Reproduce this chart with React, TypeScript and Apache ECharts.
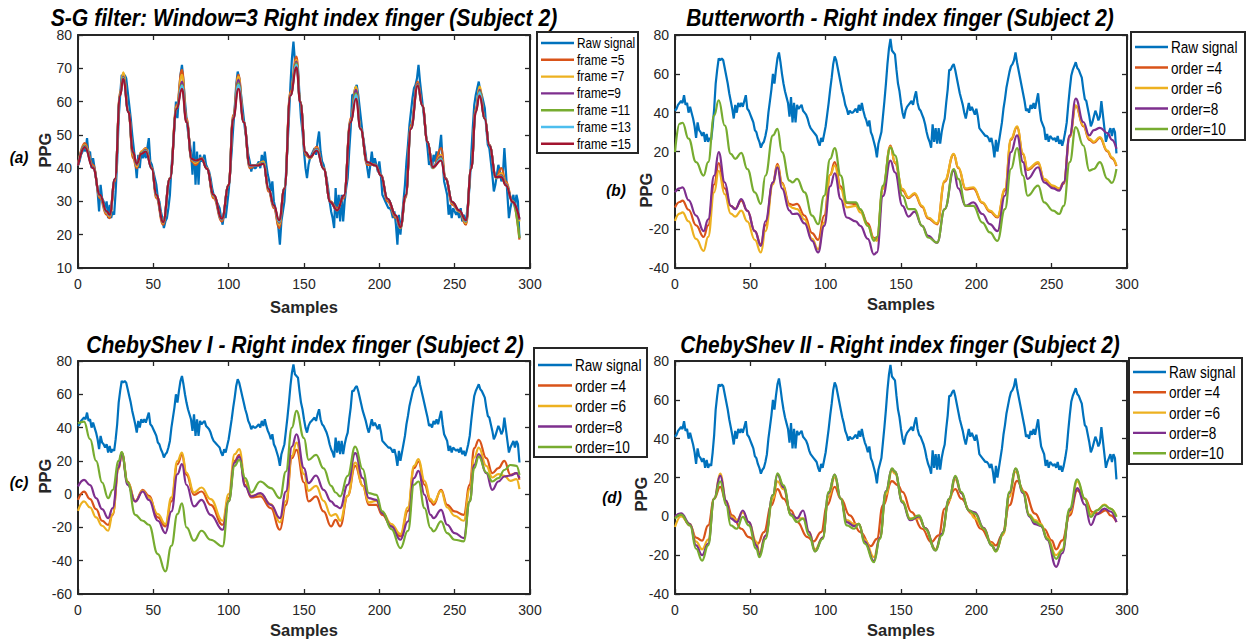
import React, { useEffect, useRef } from "react";
import * as echarts from "echarts";

// ---------------- DATA ----------------
// Raw PPG signal, one value per sample (0..293)
const rawSignal = [
  41, 42, 44, 45, 46, 45, 49, 44, 45, 40,
  43, 40, 37, 33, 27, 35, 31, 30, 28, 30,
  25, 29, 25, 27, 26, 33, 42, 55, 62, 68,
  67, 68, 67, 63, 59, 55, 50, 46, 42, 37,
  44, 40, 45, 43, 45, 43, 46, 49, 42, 41,
  39, 37, 35, 31, 30, 27, 25, 22, 24, 25,
  28, 32, 40, 46, 52, 60, 55, 62, 68, 71,
  66, 60, 55, 51, 48, 45, 38, 48, 35, 45,
  35, 44, 42, 43, 44, 41, 40, 39, 37, 34,
  32, 31, 30, 29, 28, 25, 23, 27, 25, 29,
  33, 39, 45, 52, 58, 65, 69, 67, 63, 59,
  55, 51, 48, 44, 42, 39, 41, 40, 40, 41,
  42, 40, 44, 41, 45, 41, 38, 36, 33, 36,
  30, 28, 25, 22, 17, 24, 27, 30, 38, 46,
  55, 65, 73, 78, 72, 71, 70, 62, 55, 51,
  45, 40, 37, 41, 43, 44, 45, 46, 44, 48,
  51, 45, 42, 41, 39, 37, 34, 30, 27, 25,
  22, 34, 25, 32, 24, 32, 24, 30, 34, 37,
  45, 52, 62, 62, 64, 65, 62, 58, 54, 50,
  47, 44, 40, 37, 41, 45, 41, 43, 41, 39,
  42, 38, 32, 31, 30, 29, 28, 28, 27, 25,
  27, 23, 17, 26, 20, 25, 30, 35, 42, 47,
  53, 57, 61, 64, 65, 67, 71, 66, 62, 58,
  54, 50, 46, 41, 42, 40, 44, 42, 45, 42,
  46, 50, 42, 36, 34, 32, 26, 29, 25, 28,
  27, 26, 27, 25, 28, 24, 26, 23, 26, 30,
  35, 44, 52, 59, 62, 64, 66, 63, 62, 60,
  58, 52, 47, 46, 42, 38, 33, 35, 38, 41,
  39, 36, 38, 46, 39, 32, 25, 28, 30, 32,
  28, 32, 30, 19,
];

// (a) Savitzky-Golay outputs, read at these sample positions
const sgX = [0, 4.5, 10, 14.5, 19, 21, 24.5, 28, 30, 33.5, 36.5, 39, 42, 45, 49, 52, 56.5, 61, 65.5, 69, 72, 75.5, 78, 82, 85.5, 90, 95.5, 100, 103, 106.5, 110, 114, 119, 123, 126.5, 130, 133.5, 137, 141, 145, 147.5, 151, 154, 158.5, 163, 167.5, 172, 176.5, 181, 184.5, 187.5, 192, 197.5, 201, 205.5, 211, 214, 217.5, 221, 225.5, 228.5, 232, 235.5, 241, 244, 248.5, 253, 257.5, 261, 264, 266.5, 270, 273, 277.5, 281, 284, 288.5, 293];
const sgFrame5 = [41, 47.5, 41, 31, 26, 25, 36, 63, 68.5, 57, 43, 40, 45, 46, 40, 31, 23, 37, 59, 69.5, 55, 42, 41, 43, 40, 31, 24, 35, 56, 68, 54, 40, 41, 42, 33, 28, 22, 34, 63, 73.5, 60, 44, 43, 46.5, 40, 30, 28, 31, 55, 64, 52, 41, 41, 38, 30, 25, 22, 31, 53, 66, 59, 48, 40, 46, 37, 29, 27, 23, 40, 58, 64, 55, 47, 37, 40, 36, 30, 18.5];
const sgFrame7 = [41, 47, 40.5, 31.5, 26.5, 25.5, 36.5, 62.5, 68.8, 57, 44, 40.5, 45, 45.8, 40, 31.5, 23.5, 37, 58.5, 68, 54.5, 42.5, 41.5, 43, 40, 31.5, 24.5, 35, 55.5, 67.5, 54, 40.5, 41, 42, 33.5, 28.5, 23, 34, 62.5, 72.5, 60, 44.5, 43, 46, 40, 30, 27.5, 31.5, 54.5, 64.5, 52, 41.5, 41, 38, 30.5, 25.5, 22, 31.5, 52.5, 65.5, 59, 48, 40, 44, 37, 29.5, 27, 23.5, 40, 57.5, 64.5, 55, 47, 37, 38.5, 35.5, 30, 24];
const sgFrame9 = [41, 46.8, 40.3, 31.8, 26.8, 25.8, 36.6, 62.2, 67.5, 57, 44.5, 41, 44.6, 45.5, 39.9, 31.8, 23.7, 36.9, 58, 66, 54.2, 42.6, 42, 42.9, 39.9, 31.8, 24.6, 34.9, 55.2, 66.5, 53.9, 40.6, 40.9, 41.6, 33.6, 28.6, 23.6, 33.9, 62, 72, 60, 44.6, 43.2, 45.8, 39.9, 29.9, 27.4, 31.6, 54.2, 63.5, 51.9, 41.6, 40.9, 37.9, 30.7, 25.6, 22.2, 31.6, 52.2, 65.3, 58.9, 47.9, 40.2, 43.5, 36.9, 29.7, 27.2, 23.9, 39.9, 57.2, 63.5, 54.9, 46.9, 37.2, 37.8, 35.2, 29.9, 24.5];
const sgFrame11 = [40.9, 46.6, 40.2, 31.9, 26.9, 25.9, 36.7, 62, 67.2, 56.9, 44.6, 41.1, 44.5, 45.3, 39.9, 31.9, 23.8, 36.8, 57.9, 65, 54, 42.7, 42.1, 42.8, 39.8, 31.9, 24.7, 34.8, 55, 65.5, 53.8, 40.7, 40.8, 41.5, 33.7, 28.7, 23.9, 33.8, 61.9, 71.5, 59.9, 44.7, 43.2, 45.6, 39.8, 29.8, 27.3, 31.7, 54, 62.5, 51.8, 41.7, 40.8, 37.8, 30.8, 25.7, 22.2, 31.7, 52, 65, 58.8, 47.8, 40.2, 43, 36.8, 29.8, 27.2, 24, 39.8, 57, 63, 54.8, 46.8, 37.2, 37.5, 35, 29.8, 19];
const sgFrame13 = [40.8, 46.4, 40.1, 31.9, 26.9, 25.9, 36.8, 61.9, 67, 56.8, 44.7, 41.2, 44.4, 45.1, 39.8, 31.9, 23.8, 36.8, 57.8, 64.8, 53.9, 42.7, 42.2, 42.8, 39.8, 31.9, 24.7, 34.8, 54.9, 65, 53.8, 40.7, 40.8, 41.4, 33.7, 28.7, 24, 33.8, 61.8, 71, 59.8, 44.7, 43.3, 45.5, 39.8, 29.8, 27.3, 31.7, 53.9, 62, 51.8, 41.7, 40.8, 37.8, 30.8, 25.7, 22.3, 31.7, 51.9, 64.9, 58.8, 47.8, 40.3, 42.7, 36.8, 29.8, 27.3, 24.1, 39.8, 56.9, 62.8, 54.8, 46.8, 37.2, 37.4, 34.9, 29.8, 24.8];
const sgFrame15 = [40.8, 46.3, 40, 32, 27, 26, 36.8, 61.8, 66.8, 56.8, 44.8, 41.3, 44.3, 45, 39.8, 32, 23.8, 36.8, 57.8, 63.8, 53.8, 42.8, 42.3, 42.8, 39.8, 32, 24.8, 34.8, 54.8, 63.8, 53.8, 40.8, 40.8, 41.3, 33.8, 28.8, 24.3, 33.8, 61.8, 70.3, 59.8, 44.8, 43.3, 45.3, 39.8, 29.8, 27.3, 31.8, 53.8, 60.8, 51.8, 41.8, 40.8, 37.8, 30.8, 25.8, 22.3, 31.8, 51.8, 64.8, 58.8, 47.8, 40.3, 42.3, 36.8, 29.8, 27.3, 24.3, 39.8, 56.8, 61.8, 54.8, 46.8, 37.3, 37.3, 34.8, 29.8, 24.8];

// (b) Butterworth
const bwX = [0, 3, 5, 9, 14, 19, 22, 26, 29, 33, 37, 40, 44, 48, 53, 57, 60, 65, 68, 71, 76, 78, 81, 86, 91, 95, 99, 103, 106, 110, 114, 120, 123, 128, 132, 134, 138, 143, 146, 151, 155, 159, 164, 168, 174, 179, 185, 188, 193, 198, 204, 209, 214, 219, 223, 227, 231, 234, 241, 245, 251, 255, 258, 262, 266, 271, 275, 278, 282, 287, 290, 293];
const bwOrder4 = [-8.8, -6, -5.3, -10, -18, -24, -18, 3, 14, 1, -8, -9.5, -5.3, -10.5, -21, -27.8, -18, 4, 13.6, 4, -7, -7.5, -7, -13, -22, -25.5, -13, 8, 14.5, 2, -6.5, -7, -10, -17, -24.5, -25, 1, 23, 14, 0, -4, -2, -8.5, -14.5, -17.5, 4.5, 18.5, 11.5, 0.5, 1, -6.5, -11, -14, 0, 26, 32.5, 18.5, 10.5, 14, 5.5, 2, 0.5, 3.5, 27.5, 43.5, 33, 26, 24.5, 27, 20, 16.5, 12.5];
const bwOrder6 = [-15.7, -12, -11.4, -16, -25, -31.2, -24, -1, 10, -2, -12, -13.5, -10.5, -16, -25.5, -32, -21, 3, 12.8, 3.5, -8, -9, -9.7, -15, -25, -30.3, -16.6, 8, 12.8, 0.7, -8.8, -8, -11.4, -18.3, -25.2, -26, 0.7, 22.5, 14.5, 0.7, -3.6, -1.4, -8, -14, -17, 5, 18.8, 12, 1, 1.6, -6.2, -10.5, -13.5, 0.7, 26.6, 33, 19, 11, 14.5, 5.9, 2.4, 1, 4.1, 28, 43.8, 33.4, 26.6, 25, 27.4, 20.5, 17, 12.8];
const bwOrder8 = [-1, 1, 1.5, -5, -13, -21, -15, 7.6, 19.7, 4.1, -8, -9.7, -4.5, -10.5, -21, -28.6, -16, 4.1, 11.9, 1, -10.5, -12.2, -12, -17, -26, -32, -18.3, 2, 8.8, -4.5, -14, -16, -18.3, -25, -33, -32, -3, 15.3, 9.3, -8, -13.5, -11, -18.3, -23.4, -27, -9.7, 10.2, 1, -8, -6.2, -12.2, -17.4, -21, -2.8, 19.7, 28.3, 14.5, 5.9, 11.9, 4.1, 1, -0.2, 4.1, 28.3, 47.2, 35.2, 28.3, 31, 32.2, 29.5, 26, 21.4];
const bwOrder10 = [19.7, 34.3, 34.8, 26.6, 14.5, 7.6, 14.5, 38.6, 46.4, 33.4, 18.8, 16.2, 19.3, 11, -1, -7, 7.6, 28.3, 31.7, 19.7, 5, 4.1, 5.9, -1, -13, -17.4, -2.8, 16.2, 21.7, 7.6, -6.2, -6.2, -9.7, -18.3, -26, -24, 2.4, 22, 18, -2.8, -9.7, -9.7, -18.3, -24.3, -26.9, -9.7, 11, 5.9, -8, -8, -16.6, -21.7, -26, -9.7, 11, 21.7, 7.6, -2.8, 2.4, -6.2, -10.5, -12.2, -8, 14.5, 32.6, 23.1, 10.2, 11, 14.5, 5.9, 3.8, 11];

// (c) Chebyshev I
const c1X = [0, 4, 8, 12, 16, 20, 23, 27, 29, 33, 38, 43, 47, 53, 58, 62, 66, 69, 72, 77, 82, 88, 96, 100, 104, 107, 111, 115, 121, 128, 134, 138, 142, 145, 150, 153, 158, 163, 168, 171, 174, 179, 184, 189, 193, 198, 202, 208, 214, 219, 223, 226, 230, 234, 236, 241, 245, 250, 256, 260, 263, 266, 271, 275, 279, 283, 287, 291, 293];
const c1Order4 = [-3.4, 1.5, -3, -9, -16, -18.5, -12.4, 16, 24.6, 7.6, -4.4, 2.6, -1, -14, -19.4, -4.4, 18, 23.6, 11.6, -0.4, 1.6, -6.4, -18.4, -2.4, 20, 23.6, 5.6, -2, -1.4, -8.4, -21.4, -6.4, 21.6, 26.6, 7, -4.4, -1.4, -10.4, -19.4, -15.4, -19.4, -1, 17, 5, -6.4, -6.4, -12.4, -19.4, -25.4, -10, 15.6, 19.6, 5.6, -4.4, -6.4, 2.6, -6.4, -10.4, -12.4, 5.6, 27.6, 32.6, 21.6, 12.6, 15.6, 20, 11.6, 12.6, 8.6];
const c1Order6 = [-10, -4.4, -8, -14, -19, -22, -12, 15, 25, 7, -4, 2, -2, -12, -18, -2, 20, 25, 13, 1, 4, -3, -16, 0, 24, 27, 8, -1, 0, -6, -17, -4, 23, 31, 12, 2, 5, -4, -13, -12, -16, -1, 19, 5, -5, -4, -11, -18, -24, -8, 17, 21, 8, -3, -5, 2, -8, -13, -16, 3, 22, 28, 17, 10, 12, 11, 8, 9, 3];
const c1Order8 = [4.6, 8.6, 5.4, -2.4, -9, -14.4, -8.4, 16, 24.6, 5.6, -4.4, 1.6, -3.5, -16, -23.4, -10.4, 12, 18, 5.6, -7.4, -3.4, -12.4, -21.4, -4.4, 19, 22.6, 4.6, -1.4, 0.6, -6.4, -14.4, 1.6, 28.6, 36, 15.6, 6.6, 11.2, 2.6, -4.4, -7, -8.4, 5.6, 24.6, 9.6, -2.4, -3.4, -11.4, -19.4, -27.4, -16.4, 9.6, 14, -0.4, -12.4, -14.4, -9.4, -18.4, -23.4, -26.4, -4.4, 17.6, 24, 12.6, 2.6, 7.6, 10.6, 11.2, 12.6, 9.6];
const c1Order10 = [42.6, 43.6, 33, 20, 7, -2.4, 2.5, 20, 25.2, 7, -12.4, -16, -18.4, -36, -46.4, -31, -12, -5.5, -20, -28, -22, -27.4, -31.4, -4.4, 17, 20.6, 9.6, 1, 7.6, 3.6, -2.4, 13.6, 40, 50, 33.6, 20.6, 23.6, 15.5, 5, 1, -1.4, 11, 28.6, 15, 0.6, -0.4, -10.4, -21, -32.4, -22, 5.6, 7.6, -8.4, -20.4, -22.4, -16.4, -23.4, -27.4, -28.4, -4.4, 15.6, 22.6, 13, 7.6, 9.6, 14.5, 17.5, 17, 11.6];

// (d) Chebyshev II
const c2X = [0, 4, 10, 14, 18, 22, 26, 30, 34, 37, 41, 45, 49, 54, 56, 60, 65, 68, 72, 77, 81, 85, 89, 93, 98, 102, 106, 110, 114, 119, 122, 126, 132, 136, 140, 144, 146, 151, 156, 162, 166, 173, 177, 182, 186, 190, 195, 199, 205, 210, 213, 218, 222, 226, 231, 235, 239, 243, 247, 253, 257, 262, 267, 272, 276, 280, 285, 289, 293];
const c2Order4X = [0, 4, 10, 14, 18, 22, 26, 30, 34, 38, 44, 49, 55, 59, 64, 68, 72, 77, 81, 88, 92, 97, 101, 106, 110, 116, 123, 130, 134, 138, 144, 148, 151, 157, 164, 170, 175, 179, 186, 190, 197, 203, 210, 213, 217, 222, 227, 232, 239, 245, 250, 253, 257, 262, 267, 272, 277, 281, 286, 289, 293];
const c2Order4 = [-0.3, 0.5, -4.7, -11, -12.5, -4.7, 9.1, 15.2, 7.4, 0.5, -6.4, -10.7, -14.1, -8.1, 5.7, 14, 9.1, 3.1, -2.9, -10.7, -12.9, -8.1, 5.7, 15.2, 9.1, 0.5, -8.1, -15.3, -11.6, 5.7, 18.1, 16, 12.6, 2.2, -6.4, -13.3, -9.8, 4, 14, 9.1, 1.4, -6.4, -13.3, -15, -9.8, 5.7, 18.3, 12.6, 1.4, -6.4, -12.4, -17, -12.4, 0.5, 13.4, 9.1, 2.2, 1.4, 3.1, 0.5, -2.9];
const c2Order6 = [-5.5, 0, -4, -13, -17, -12, 9, 22, 8, 0, -2, 2, -3, -13, -19, -10, 9, 18, 14, 1, -1, -1, -8, -17, -11, 10, 20, 9, -2, -4, -4, -12, -21, -11, 11, 23.5, 22, 8, -1, -1, -6, -17, -9, 8, 19, 12, 3, -1, -6, -14, -18, -9, 10, 23, 13, 1, -2, -4, -11, -20, -17, 2, 18, 9, 1, 3, 6, 4, 0];
const c2Order8 = [0, 1.5, -4, -15, -20, -14, 9, 21, 8, -1, -3, 3, -3, -15, -20, -10, 11, 21.5, 15, 1, -1, 3, -8, -18, -11, 12, 21.5, 9, -3, -5, -4, -13, -23, -11, 13, 24.5, 23, 7, -2, 0, -6, -17.5, -9, 9, 20.5, 12, 3, 2, -6, -15, -17.5, -8, 12, 24.5, 12, 0, -4, -5, -12, -26, -19, 3, 14.5, 6, -4.5, 1, 4, 2.5, -3];
const c2Order10 = [-1.2, 0.9, -4.7, -16.7, -22.8, -15, 9.1, 18, 5.7, -4.7, -6.4, -0.3, -4.7, -16.7, -21, -11.6, 10.9, 22.1, 16, 0.5, -2.9, -1.2, -9.8, -18.1, -11.6, 12.6, 21.5, 9.1, -4.7, -6.4, -3.8, -14.1, -23.6, -11.6, 12.6, 24.7, 23, 7.4, -1.5, 0.5, -6.4, -17.6, -9.8, 9.1, 20.8, 12.6, 3.1, 1.4, -6.4, -15, -18.1, -8.1, 12.6, 24.7, 12.6, 0.5, -2.9, -4.7, -11.6, -21.9, -17.6, 4, 19.1, 9.1, -0.3, 3.1, 5.7, 4, -0.3];

// labels
const titles = [
  "S-G filter: Window=3 Right index finger (Subject 2)",
  "Butterworth - Right index finger (Subject 2)",
  "ChebyShev I - Right index finger (Subject 2)",
  "ChebyShev II - Right index finger (Subject 2)",
];
const panelTags = ["(a)", "(b)", "(c)", "(d)"];
const sgNames = ["Raw signal", "frame =5", "frame =7", "frame=9", "frame =11", "frame =13", "frame =15"];
const orderNames = ["Raw signal", "order =4", "order =6", "order=8", "order=10"];
const xAxisName = "Samples";
const yAxisName = "PPG";
const xMin = 0, xMax = 300, xStep = 50;
const yMins = [10, -40, -60, -40];
const yMaxs = [80, 80, 80, 80];
const ySteps = [10, 20, 20, 20];

// ---------------- STYLE / LAYOUT ----------------
const C = {
  blue: "#0072BD", red: "#D95319", yellow: "#EDB120", purple: "#7E2F8E",
  green: "#77AC30", cyan: "#4DBEEE", dark: "#A2142F",
};
const AX = "#262626";
const FONT = '"Liberation Sans", Arial, Helvetica, sans-serif';

const grids = [
  { left: 78, top: 35, width: 452, height: 233 },
  { left: 675, top: 35, width: 452, height: 233 },
  { left: 78, top: 361, width: 452, height: 233 },
  { left: 675, top: 361, width: 452, height: 233 },
];
const titlePos = [
  { x: 304, y: 18, w: 507 }, { x: 900, y: 18, w: 428 },
  { x: 305, y: 345, w: 438 }, { x: 900, y: 345, w: 440 },
];
const tagPos = [{ x: 19, y: 157 }, { x: 616, y: 190 }, { x: 19, y: 482 }, { x: 612, y: 497 }];
const ppgPos = [{ x: 45, y: 150 }, { x: 646, y: 190 }, { x: 45, y: 476 }, { x: 641, y: 494 }];
const samplesPos = [{ x: 304, y: 307 }, { x: 901, y: 304 }, { x: 304, y: 630 }, { x: 901, y: 630 }];
const legendLayout = [
  { x: 537, y: 32, w: 101, h: 121, row0: 43, dy: 16.8, l1: 541, l2: 574, tx: 577, fs: 14, sx: 0.85 },
  { x: 1131, y: 32, w: 114, h: 108, row0: 47, dy: 20.5, l1: 1135, l2: 1168, tx: 1171, fs: 17, sx: 0.8 },
  { x: 534, y: 348, w: 113, h: 109, row0: 365, dy: 20.5, l1: 538, l2: 572, tx: 575, fs: 17, sx: 0.8 },
  { x: 1129, y: 358, w: 113, h: 106, row0: 372, dy: 20.3, l1: 1133, l2: 1166, tx: 1169, fs: 17, sx: 0.8 },
];

const zip = (xs: number[], ys: number[]) => xs.map((x, i) => [x, ys[i]]);
const rawPairs = () => rawSignal.map((v, i) => [i, v]);

function measure(text: string, font: string): number {
  const ctx = document.createElement("canvas").getContext("2d");
  if (!ctx) return text.length * 10;
  ctx.font = font;
  return ctx.measureText(text).width;
}

function lineSeries(name: string, color: string, data: number[][], p: number, smooth: boolean) {
  return {
    type: "line", name, data, xAxisIndex: 2 * p, yAxisIndex: 2 * p,
    symbol: "none", showSymbol: false, smooth: smooth ? 0.45 : false,
    smoothMonotone: smooth ? "x" : undefined,
    lineStyle: { color, width: 2.2 }, itemStyle: { color },
    silent: true, animation: false,
  };
}

function buildOption() {
  const xAxes: any[] = [];
  const yAxes: any[] = [];
  for (let p = 0; p < 4; p++) {
    const common = {
      gridIndex: p, type: "value", splitLine: { show: false },
      axisLine: { show: true, onZero: false, lineStyle: { color: AX, width: 2 } },
      axisTick: { show: true, inside: true, length: 5, lineStyle: { color: AX, width: 1.3 } },
    };
    xAxes.push({ ...common, position: "bottom", min: xMin, max: xMax, interval: xStep,
      axisLabel: { color: AX, fontSize: 14, fontFamily: FONT, margin: 9 } });
    xAxes.push({ ...common, position: "top", min: xMin, max: xMax, interval: xStep, axisLabel: { show: false } });
    yAxes.push({ ...common, position: "left", min: yMins[p], max: yMaxs[p], interval: ySteps[p],
      axisLabel: { color: AX, fontSize: 14, fontFamily: FONT, margin: 6 } });
    yAxes.push({ ...common, position: "right", min: yMins[p], max: yMaxs[p], interval: ySteps[p], axisLabel: { show: false } });
  }

  const sgSeriesData = [sgFrame5, sgFrame7, sgFrame9, sgFrame11, sgFrame13, sgFrame15];
  const sgColors = [C.red, C.yellow, C.purple, C.green, C.cyan, C.dark];
  const orderColors = [C.red, C.yellow, C.purple, C.green];

  const series: any[] = [];
  // (a)
  series.push(lineSeries(sgNames[0], C.blue, rawPairs(), 0, false));
  sgSeriesData.forEach((ys, i) => series.push(lineSeries(sgNames[i + 1], sgColors[i], zip(sgX, ys), 0, true)));
  // (b)
  series.push(lineSeries(orderNames[0], C.blue, rawPairs(), 1, false));
  [bwOrder4, bwOrder6, bwOrder8, bwOrder10].forEach((ys, i) =>
    series.push(lineSeries(orderNames[i + 1], orderColors[i], zip(bwX, ys), 1, true)));
  // (c)
  series.push(lineSeries(orderNames[0], C.blue, rawPairs(), 2, false));
  [c1Order4, c1Order6, c1Order8, c1Order10].forEach((ys, i) =>
    series.push(lineSeries(orderNames[i + 1], orderColors[i], zip(c1X, ys), 2, true)));
  // (d)
  series.push(lineSeries(orderNames[0], C.blue, rawPairs(), 3, false));
  series.push(lineSeries(orderNames[1], orderColors[0], zip(c2Order4X, c2Order4), 3, true));
  [c2Order6, c2Order8, c2Order10].forEach((ys, i) =>
    series.push(lineSeries(orderNames[i + 2], orderColors[i + 1], zip(c2X, ys), 3, true)));

  // graphic texts & legends
  const elements: any[] = [];
  const titleFontSize = 23;
  titles.forEach((t, p) => {
    const natural = measure(t, `italic bold ${titleFontSize}px "Liberation Sans"`);
    const sx = natural > 0 ? titlePos[p].w / natural : 0.8;
    elements.push({
      type: "text", x: titlePos[p].x, y: titlePos[p].y, scaleX: sx, z: 20,
      style: { text: t, fill: "#000", fontSize: titleFontSize, fontWeight: "bold", fontStyle: "italic",
        fontFamily: FONT, textAlign: "center", textVerticalAlign: "middle" },
    });
    elements.push({
      type: "text", x: tagPos[p].x, y: tagPos[p].y, scaleX: 0.9, z: 20,
      style: { text: panelTags[p], fill: "#000", fontSize: 17, fontWeight: "bold", fontStyle: "italic",
        fontFamily: FONT, textAlign: "center", textVerticalAlign: "middle" },
    });
    elements.push({
      type: "text", x: ppgPos[p].x, y: ppgPos[p].y, rotation: Math.PI / 2, z: 20,
      style: { text: yAxisName, fill: AX, fontSize: 16.5, fontWeight: "bold",
        fontFamily: FONT, textAlign: "center", textVerticalAlign: "middle" },
    });
    elements.push({
      type: "text", x: samplesPos[p].x, y: samplesPos[p].y, z: 20,
      style: { text: xAxisName, fill: AX, fontSize: 16.5, fontWeight: "bold",
        fontFamily: FONT, textAlign: "center", textVerticalAlign: "middle" },
    });
    // legend
    const L = legendLayout[p];
    const names = p === 0 ? sgNames : orderNames;
    const colors = p === 0 ? [C.blue, ...sgColors] : [C.blue, ...orderColors];
    elements.push({
      type: "rect", z: 30, shape: { x: L.x, y: L.y, width: L.w, height: L.h },
      style: { fill: "#fff", stroke: AX, lineWidth: 2 },
    });
    names.forEach((n, i) => {
      const yy = L.row0 + i * L.dy;
      elements.push({
        type: "line", z: 31, shape: { x1: L.l1, y1: yy, x2: L.l2, y2: yy },
        style: { stroke: colors[i], lineWidth: 2.4 },
      });
      elements.push({
        type: "text", z: 31, x: L.tx, y: yy, scaleX: L.sx,
        style: { text: n, fill: "#000", fontSize: L.fs, fontFamily: FONT,
          textAlign: "left", textVerticalAlign: "middle" },
      });
    });
  });

  return {
    animation: false,
    backgroundColor: "#fff",
    grid: grids.map((g) => ({ ...g, containLabel: false, show: false })),
    xAxis: xAxes,
    yAxis: yAxes,
    series,
    graphic: { elements },
  };
}

export default function App() {
  const ref = useRef<HTMLDivElement>(null);
  useEffect(() => {
    if (!ref.current) return;
    const chart = echarts.init(ref.current, null, { renderer: "svg" });
    chart.setOption(buildOption() as any);
    return () => chart.dispose();
  }, []);
  return (
    <div
      ref={ref}
      style={{ position: "absolute", left: 0, top: 0, width: 1255, height: 643, background: "#fff" }}
    />
  );
}
